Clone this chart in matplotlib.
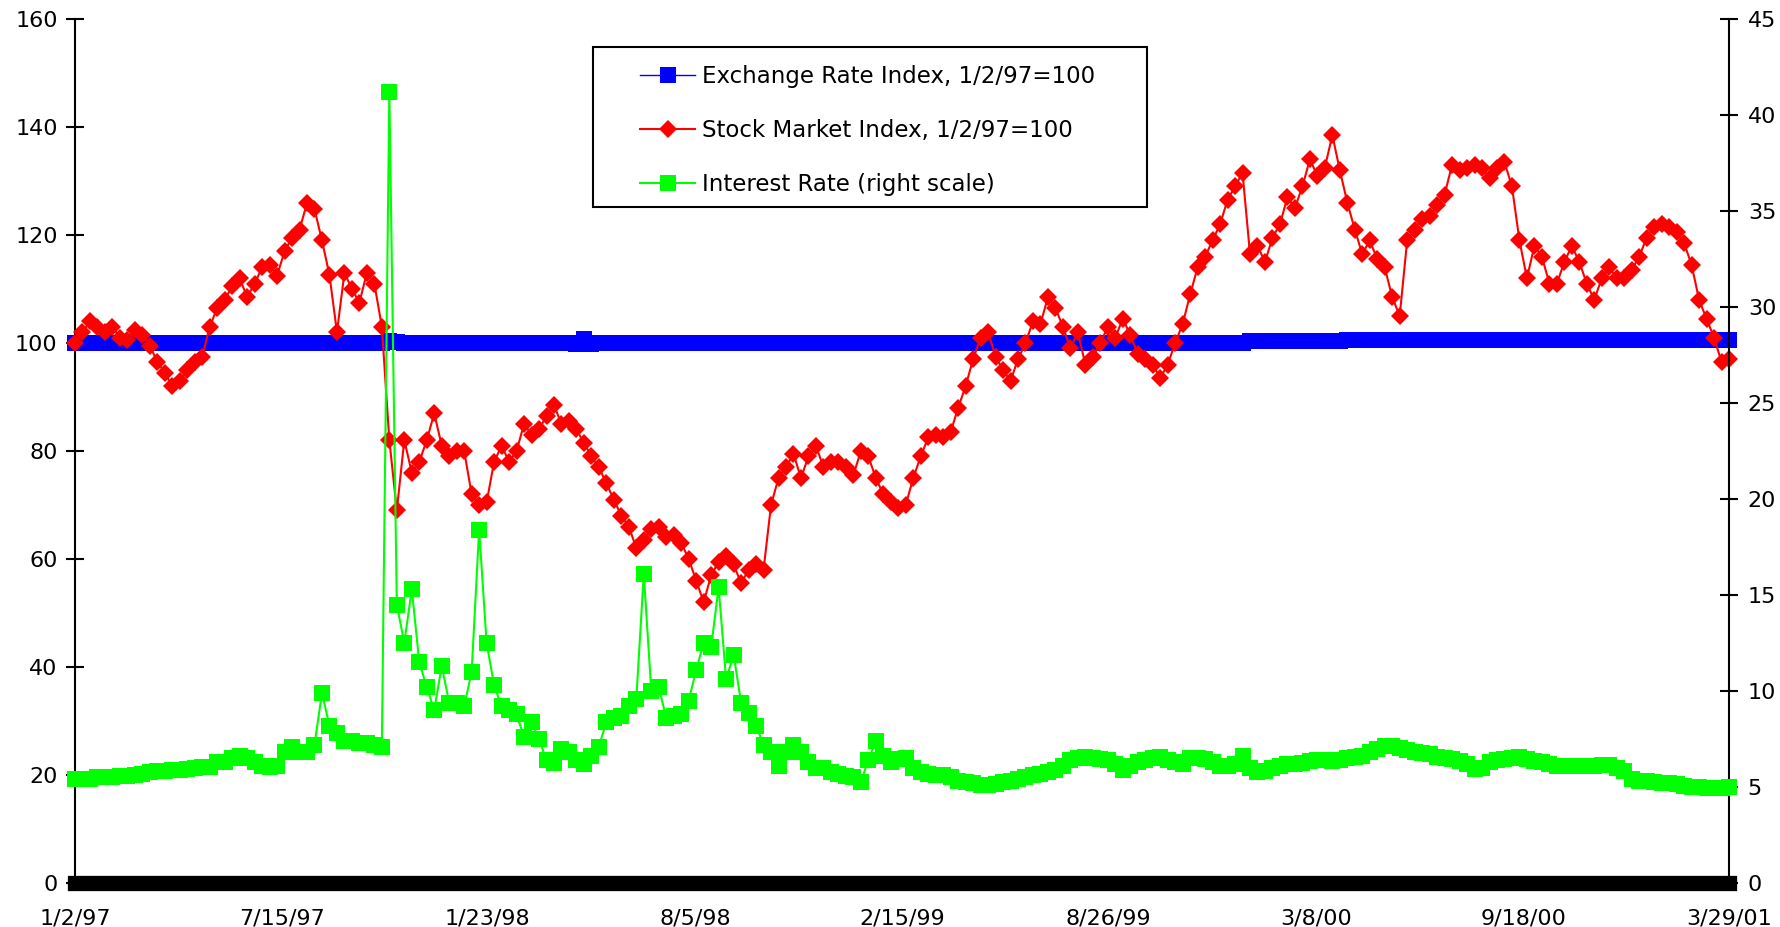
import matplotlib
matplotlib.use("Agg")
import matplotlib.pyplot as plt
import pandas as pd
from matplotlib.patches import Rectangle

# weekly readings, 1/2/97 .. 3/29/01
weeks = pd.date_range("1997-01-02", periods=222, freq="7D")

exchange_rate = [
    100.0, 100.0, 100.0, 100.0, 100.0, 100.0, 100.0, 100.0, 100.0, 100.0,
    100.0, 100.0, 100.0, 100.0, 100.0, 100.0, 100.0, 100.0, 100.0, 100.0,
    100.0, 100.0, 100.0, 100.0, 100.0, 100.0, 100.0, 100.0, 100.0, 100.0,
    100.0, 100.0, 100.0, 100.0, 100.0, 100.0, 100.0, 100.0, 100.0, 100.0,
    100.0, 100.0, 100.4, 100.1, 100.0, 100.0, 100.0, 100.0, 100.0, 100.0,
    100.0, 100.0, 100.0, 100.0, 100.0, 100.0, 100.0, 100.0, 100.0, 100.0,
    100.0, 100.0, 100.0, 100.0, 100.0, 100.0, 100.0, 99.8, 100.7, 99.9,
    100.0, 100.0, 100.0, 100.0, 100.0, 100.0, 100.0, 100.0, 100.0, 100.0,
    100.0, 100.0, 100.0, 100.0, 100.0, 100.0, 100.0, 100.0, 100.0, 100.0,
    100.0, 100.0, 100.0, 100.0, 100.0, 100.0, 100.0, 100.0, 100.0, 100.0,
    100.0, 100.0, 100.0, 100.0, 100.0, 100.0, 100.0, 100.0, 100.0, 100.0,
    100.0, 100.0, 100.0, 100.0, 100.0, 100.0, 100.0, 100.0, 100.0, 100.0,
    100.0, 100.0, 100.0, 100.0, 100.0, 100.0, 100.0, 100.0, 100.0, 100.0,
    100.0, 100.0, 100.0, 100.0, 100.0, 100.0, 100.0, 100.0, 100.0, 100.0,
    100.0, 100.0, 100.0, 100.0, 100.0, 100.0, 100.0, 100.0, 100.0, 100.0,
    100.0, 100.0, 100.0, 100.0, 100.0, 100.0, 100.0, 100.3, 100.3, 100.3,
    100.3, 100.3, 100.3, 100.3, 100.3, 100.3, 100.3, 100.3, 100.3, 100.3,
    100.6, 100.6, 100.6, 100.6, 100.6, 100.6, 100.6, 100.6, 100.6, 100.6,
    100.6, 100.6, 100.6, 100.6, 100.6, 100.6, 100.6, 100.6, 100.6, 100.6,
    100.6, 100.6, 100.6, 100.6, 100.6, 100.6, 100.6, 100.6, 100.6, 100.6,
    100.6, 100.6, 100.6, 100.6, 100.6, 100.6, 100.6, 100.6, 100.6, 100.6,
    100.6, 100.6, 100.6, 100.6, 100.6, 100.6, 100.6, 100.6, 100.6, 100.6,
    100.6, 100.6,
]

stock_index = [
    100, 102, 104, 103, 102, 103, 101, 100.5, 102.4, 101.5,
    99.5, 96.5, 94.5, 92, 93, 95, 96.5, 97.5, 103, 106.5,
    108, 110.5, 112, 108.5, 111, 114, 114.5, 112.5, 117, 119.5,
    121, 125.9, 124.8, 119, 112.6, 102, 113, 110, 107.5, 113,
    111, 103, 82, 69, 82, 76, 78, 82, 87, 81,
    79, 80, 80, 72, 70, 70.5, 78, 81, 78, 80,
    85, 83, 84, 86.5, 88.5, 85, 85.5, 84, 81.5, 79,
    77, 74, 71, 68, 66, 62, 63.5, 65.5, 66, 64,
    64.5, 63, 60, 56, 52, 57, 59.5, 60.5, 59, 55.5,
    58, 59, 58, 70, 75, 77, 79.5, 75, 79, 81,
    77, 78, 78, 77, 75.5, 80, 79, 75, 72, 70.5,
    69.5, 70, 75, 79, 82.5, 83, 82.5, 83.5, 88, 92,
    97, 101, 102, 97.5, 95, 93, 97, 100, 104, 103.5,
    108.5, 106.5, 103, 99, 102, 96, 97.5, 100, 103, 101,
    104.5, 101.5, 98, 97, 96, 93.5, 96, 100, 103.5, 109,
    114, 116, 119, 122, 126.5, 129, 131.5, 116.5, 118, 115,
    119.5, 122, 127, 125, 129, 134, 131, 132.5, 138.5, 132,
    126, 121, 116.5, 119, 115.5, 114, 108.5, 105, 119, 121,
    123, 123.5, 125.5, 127.5, 133, 132, 132.5, 133, 132.5, 130.5,
    132.5, 133.5, 129, 119, 112, 118, 116, 111, 111, 115,
    118, 115, 111, 108, 112, 114, 112, 112, 113.5, 116,
    119.5, 121.5, 122, 121.5, 120.5, 118.5, 114.5, 108, 104.5, 101,
    96.5, 97,
]

interest_rate = [
    5.4, 5.4, 5.4, 5.5, 5.5, 5.5, 5.55, 5.55, 5.6, 5.7,
    5.8, 5.85, 5.85, 5.9, 5.9, 5.95, 6.0, 6.05, 6.05, 6.3,
    6.3, 6.5, 6.6, 6.5, 6.3, 6.1, 6.05, 6.1, 6.8, 7.1,
    6.8, 6.8, 7.2, 9.9, 8.2, 7.8, 7.4, 7.4, 7.3, 7.3,
    7.2, 7.1, 41.2, 14.5, 12.5, 15.3, 11.5, 10.2, 9.0, 11.3,
    9.4, 9.4, 9.2, 11.0, 18.4, 12.5, 10.3, 9.2, 9.0, 8.8,
    7.6, 8.4, 7.5, 6.4, 6.25, 7.0, 6.8, 6.4, 6.2, 6.6,
    7.1, 8.4, 8.6, 8.7, 9.2, 9.6, 16.1, 10.0, 10.2, 8.6,
    8.7, 8.8, 9.5, 11.1, 12.5, 12.3, 15.4, 10.6, 11.9, 9.4,
    8.85, 8.2, 7.2, 6.8, 6.1, 6.8, 7.2, 6.8, 6.3, 6.0,
    6.0, 5.8, 5.7, 5.55, 5.5, 5.25, 6.4, 7.4, 6.6, 6.3,
    6.45, 6.5, 6.0, 5.8, 5.7, 5.6, 5.6, 5.5, 5.3, 5.25,
    5.2, 5.1, 5.1, 5.15, 5.25, 5.3, 5.4, 5.5, 5.6, 5.7,
    5.8, 5.9, 6.1, 6.4, 6.5, 6.55, 6.5, 6.45, 6.4, 6.2,
    5.9, 6.1, 6.3, 6.4, 6.5, 6.55, 6.4, 6.3, 6.2, 6.5,
    6.5, 6.45, 6.3, 6.1, 6.1, 6.2, 6.6, 6.0, 5.8, 5.85,
    6.0, 6.1, 6.2, 6.2, 6.25, 6.35, 6.4, 6.4, 6.35, 6.4,
    6.5, 6.55, 6.6, 6.8, 7.0, 7.15, 7.15, 7.05, 6.95, 6.8,
    6.75, 6.7, 6.55, 6.5, 6.45, 6.35, 6.2, 5.95, 6.0, 6.3,
    6.4, 6.45, 6.5, 6.55, 6.45, 6.35, 6.3, 6.2, 6.1, 6.1,
    6.1, 6.1, 6.1, 6.1, 6.15, 6.15, 6.0, 5.85, 5.4, 5.3,
    5.3, 5.25, 5.2, 5.2, 5.15, 5.05, 5.0, 5.0, 4.95, 4.95,
    4.95, 5.0,
]

tick_labels = ["1/2/97", "7/15/97", "1/23/98", "8/5/98", "2/15/99",
               "8/26/99", "3/8/00", "9/18/00", "3/29/01"]
left_ticks = [0, 20, 40, 60, 80, 100, 120, 140, 160]
right_ticks = [0, 5, 10, 15, 20, 25, 30, 35, 40, 45]

labels = ["Exchange Rate Index, 1/2/97=100",
          "Stock Market Index, 1/2/97=100",
          "Interest Rate (right scale)"]

W, H = 1780, 927
fig = plt.figure(figsize=(W / 100, H / 100), dpi=100)
ax = fig.add_axes([75 / W, 44 / H, 1654 / W, 864 / H])
ax2 = ax.twinx()

l1, = ax.plot(weeks, exchange_rate, color="#0000FF", lw=1, marker="s",
              ms=12, mew=0, clip_on=False, zorder=2)
l2, = ax.plot(weeks, stock_index, color="#FF0000", lw=1.5, marker="D",
              ms=9.5, mew=0, clip_on=False, zorder=3)
l3, = ax2.plot(weeks, interest_rate, color="#00FF00", lw=1.5, marker="s",
               ms=12, mew=0, clip_on=False, zorder=3)

tick_dates = pd.to_datetime(tick_labels, format="%m/%d/%y")
ax.set_xlim(tick_dates[0], tick_dates[-1])
ax.set_xticks(tick_dates)
ax.set_xticklabels(tick_labels)

ax.set_ylim(0, 160)
ax.set_yticks(left_ticks)
ax2.set_ylim(0, 45)
ax2.set_yticks(right_ticks)

ax.tick_params(axis="y", direction="inout", length=13, width=1.5,
               labelsize=16, pad=6)
ax.tick_params(axis="x", length=0, labelsize=16, pad=18)
ax2.tick_params(axis="y", direction="inout", length=13, width=1.5,
                labelsize=16, pad=7)

ax.spines["top"].set_visible(False)
ax.spines["right"].set_visible(False)
ax.spines["left"].set_linewidth(1.5)
ax.spines["bottom"].set_linewidth(11)
ax2.spines["top"].set_visible(False)
ax2.spines["left"].set_visible(False)
ax2.spines["bottom"].set_visible(False)
ax2.spines["right"].set_linewidth(1.5)

# legend without its own frame, box drawn separately
fig.legend([l1, l2, l3], labels, loc="upper left",
           bbox_to_anchor=(640 / W, 1 - 65 / H), frameon=False,
           fontsize=16.5, handlelength=2.4, handletextpad=0.3,
           labelspacing=1.35, borderpad=0, borderaxespad=0,
           markerscale=0.95)
fig.patches.append(Rectangle((593 / W, 1 - 207 / H), 554 / W, 160 / H,
                             transform=fig.transFigure, fill=False,
                             ec="black", lw=1.5, zorder=5))

fig.savefig("out.png", dpi=100)
